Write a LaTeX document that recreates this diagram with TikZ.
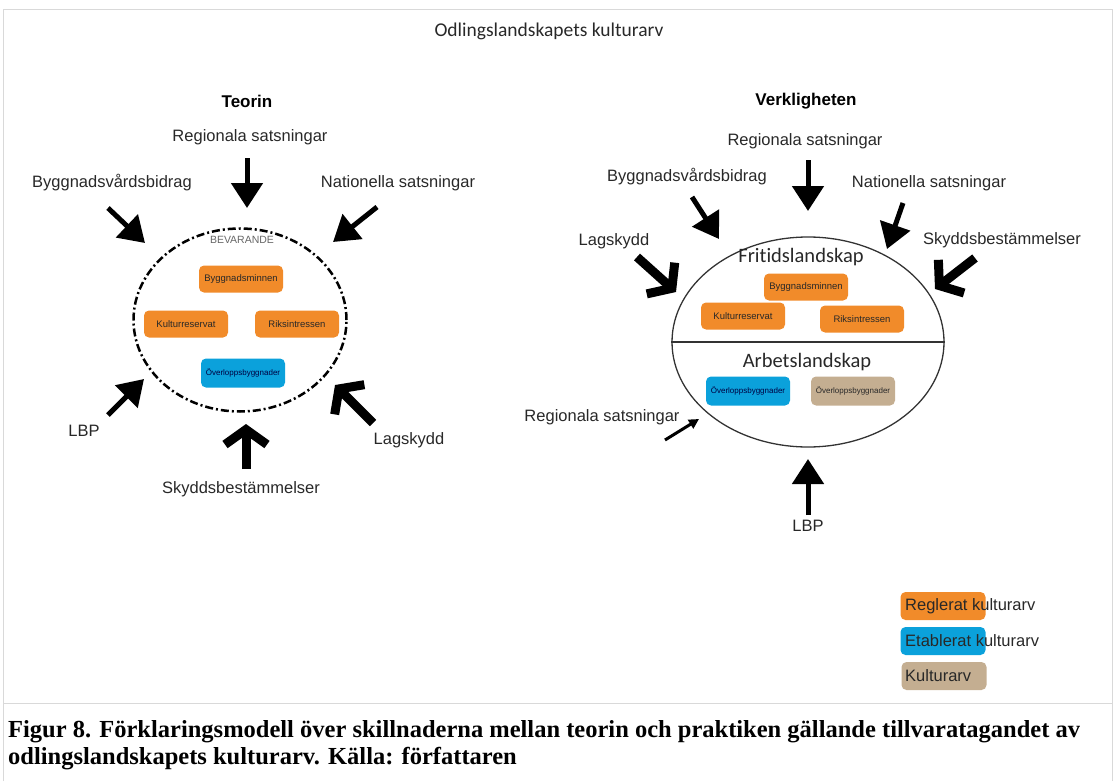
\documentclass[tikz,border=0pt]{standalone}
\usepackage{fontspec}
\setmainfont{Liberation Sans}
\newfontfamily\calibfont[Ligatures={TeX,NoCommon}]{Carlito}
\newfontfamily\capfont{Liberation Serif}
\usepackage{xcolor}
\usepackage{tikz}
\usetikzlibrary{shapes.geometric, arrows.meta}
\definecolor{orng}{RGB}{241,139,42}
\definecolor{blu}{RGB}{11,161,219}
\definecolor{beige}{RGB}{196,174,145}
\definecolor{txt}{RGB}{40,40,40}
\newcommand{\lblfont}{\fontsize{16.5}{19}\selectfont}
\newcommand{\boxfont}{\fontsize{9.5}{11}\selectfont}
\newcommand{\tinyboxfont}{\fontsize{8}{9}\selectfont}
\tikzstyle{lbl} = [font=\lblfont, text=txt, inner sep=0pt]
\tikzstyle{head} = [font=\fontsize{17}{20}\selectfont\bfseries, text=black, inner sep=0pt]
\tikzstyle{zone} = [font=\calibfont\fontsize{20.5}{24}\selectfont, text=txt, inner sep=0pt]
\tikzstyle{orangebox} = [rectangle, rounded corners=5pt, fill=orng, minimum width=84pt, minimum height=27pt, font=\boxfont, text=txt, inner sep=0pt]
\tikzstyle{bluebox} = [orangebox, fill=blu, minimum height=29pt, font=\tinyboxfont, text=black!75!blue]
\tikzstyle{beigebox} = [orangebox, fill=beige, minimum height=29pt, font=\tinyboxfont]
\tikzstyle{legbox} = [rectangle, rounded corners=5pt, minimum width=85pt, minimum height=28pt, inner sep=0pt]
\tikzstyle{fatarrow} = [line width=5pt, -{Triangle[length=25pt, width=31pt]}]
\tikzstyle{thinarrow} = [line width=3pt, -{Triangle[length=10pt, width=10pt]}]
\tikzstyle{chevarrow} = [line width=9pt, -{Straight Barb[length=15pt, width=42pt]}]

\begin{document}
\begin{tikzpicture}[x=1pt, y=-1pt]
   \useasboundingbox (0,0) rectangle (1115,781);
   \draw [gray!30, line width=1pt] (3,781) -- (3,10) -- (1112,10) -- (1112,781);
   \draw [gray!30, line width=1pt] (3,703) -- (1112,703);
   \node (title) [font=\calibfont\fontsize{19.5}{23}\selectfont, text=txt] at (549,31) {Odlingslandskapets kulturarv};

   % Teorin
   \node (teorin) [head] at (247,101) {Teorin};
   \node (tcirc) [ellipse, draw, line width=2.5pt, dash pattern=on 8pt off 3pt on 2pt off 3pt, minimum width=213pt, minimum height=183pt, inner sep=0pt] at (240,320) {};
   \node (tbev) [font=\fontsize{10.5}{12}\selectfont, text=black!60, inner sep=0pt] at (242,240) {BEVARANDE};
   \node (tbygm) [orangebox] at (241,279) {Byggnadsminnen};
   \node (tkult) [orangebox] at (186,324) {Kulturreservat};
   \node (triks) [orangebox] at (297,324) {Riksintressen};
   \node (tover) [bluebox] at (243,373) {Överloppsbyggnader};

   \node (treg) [lbl] at (250,137) {Regionala satsningar};
   \node (tbyg) [lbl] at (112,183) {Byggnadsvårdsbidrag};
   \node (tnat) [lbl] at (398,183) {Nationella satsningar};
   \node (tlbp) [lbl] at (84,431) {LBP};
   \node (tlag) [lbl] at (409,440) {Lagskydd};
   \node (tsky) [lbl] at (241,489) {Skyddsbestämmelser};

   \coordinate (treg1) at (247,158);  \coordinate (treg2) at (247,208);
   \coordinate (tbyg1) at (108,208);  \coordinate (tbyg2) at (145,243);
   \coordinate (tnat1) at (377,207);  \coordinate (tnat2) at (333,242);
   \coordinate (tlbp1) at (108,415);  \coordinate (tlbp2) at (144,379);
   \coordinate (tlag1) at (373,423);  \coordinate (tlag2) at (335,385);
   \coordinate (tsky1) at (246,469);  \coordinate (tsky2) at (246,424);
   \draw [fatarrow] (treg1) -- (treg2);
   \draw [fatarrow] (tbyg1) -- (tbyg2);
   \draw [fatarrow] (tnat1) -- (tnat2);
   \draw [fatarrow] (tlbp1) -- (tlbp2);
   \draw [chevarrow] (tlag1) -- (tlag2);
   \draw [chevarrow] (tsky1) -- (tsky2);

   % Verkligheten
   \node (verk) [head] at (806,101) {Verkligheten};
   \node (vcirc) [ellipse, draw, line width=1.3pt, draw=black!80, minimum width=272pt, minimum height=210pt, inner sep=0pt] at (808,342) {};
   \draw [line width=1.3pt, black!80] (vcirc.west) -- (vcirc.east);
   \node (vfrit) [zone] at (801,257) {Fritidslandskap};
   \node (varb) [zone] at (807,362) {Arbetslandskap};
   \node (vbygm) [orangebox] at (806,287) {Byggnadsminnen};
   \node (vkult) [orangebox] at (743,316) {Kulturreservat};
   \node (vriks) [orangebox] at (862,319) {Riksintressen};
   \node (vover) [bluebox] at (748,391) {Överloppsbyggnader};
   \node (vover2) [beigebox] at (853,391) {Överloppsbyggnader};

   \node (vreg) [lbl] at (805,141) {Regionala satsningar};
   \node (vbyg) [lbl] at (687,177) {Byggnadsvårdsbidrag};
   \node (vnat) [lbl] at (929,183) {Nationella satsningar};
   \node (vlag) [lbl] at (614,241) {Lagskydd};
   \node (vsky) [lbl] at (1002,240) {Skyddsbestämmelser};
   \node (vreg2) [lbl] at (602,417) {Regionala satsningar};
   \node (vlbp) [lbl] at (808,526) {LBP};

   \coordinate (vreg1) at (808,160);  \coordinate (vregt) at (808,211);
   \coordinate (vbyg1) at (692,197);  \coordinate (vbyg2) at (719,239);
   \coordinate (vnat1) at (903,203);  \coordinate (vnat2) at (887,249);
   \coordinate (vlag1) at (637,257);  \coordinate (vlag2) at (676,292);
   \coordinate (vsky1) at (975,258);  \coordinate (vsky2) at (935,289);
   \coordinate (vreg21) at (665,440); \coordinate (vreg22) at (699,419);
   \coordinate (vlbp1) at (808,515);  \coordinate (vlbp2) at (808,459);
   \draw [fatarrow] (vreg1) -- (vregt);
   \draw [fatarrow] (vbyg1) -- (vbyg2);
   \draw [fatarrow] (vnat1) -- (vnat2);
   \draw [chevarrow] (vlag1) -- (vlag2);
   \draw [chevarrow] (vsky1) -- (vsky2);
   \draw [thinarrow] (vreg21) -- (vreg22);
   \draw [fatarrow] (vlbp1) -- (vlbp2);

   % legend
   \node (lreg) [legbox, fill=orng] at (943,606) {};
   \node (letab) [legbox, fill=blu] at (943,641) {};
   \node (lkult) [legbox, fill=beige] at (944,676) {};
   \node [lbl, anchor=west] at (905,606) {Reglerat kulturarv};
   \node [lbl, anchor=west] at (905,641) {Etablerat kulturarv};
   \node [lbl, anchor=west] at (905,676) {Kulturarv};

   \node (caption) [anchor=north west, align=left, inner sep=0pt, font=\capfont\bfseries\fontsize{24.5}{27}\selectfont] at (8,720) {Figur 8. Förklaringsmodell över skillnaderna mellan teorin och praktiken gällande tillvaratagandet av\\odlingslandskapets kulturarv. Källa: författaren};
\end{tikzpicture}
\end{document}
